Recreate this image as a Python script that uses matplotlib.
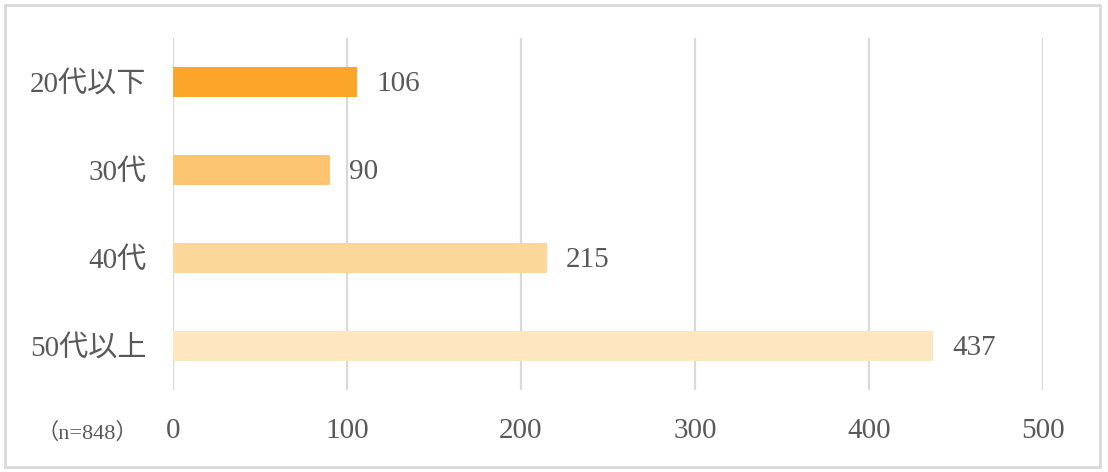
import matplotlib.pyplot as plt
from matplotlib.patches import Rectangle

## data
categories = ["20代以下", "30代", "40代", "50代以上"]
counts = [106, 90, 215, 437]
bar_colors = ["#FBA629", "#FDC572", "#FDD699", "#FEE6C0"]
xticks = [0, 100, 200, 300, 400, 500]
note = "（n=848）"

plt.rcParams['font.family'] = ['Liberation Serif', 'Noto Sans CJK JP']
text_color = "#595959"
grid_color = "#D9D9D9"

fig = plt.figure(figsize=(11.08, 4.72), dpi=100)
W, H = 1108, 472
ax = fig.add_axes([173 / W, 1 - 390 / H, (1043 - 173) / W, (390 - 38) / H])

ypos = list(range(len(categories)))
ax.barh(ypos, counts, height=0.35, color=bar_colors, zorder=3)
for y, v in zip(ypos, counts):
    ax.text(v + 11, y + 0.02, str(v), va="center", ha="left", fontsize=21, color=text_color)

ax.set_xlim(0, 500)
ax.set_ylim(3.5, -0.5)
ax.set_yticks(ypos)
ax.set_yticklabels(categories, fontsize=21, color=text_color)
ax.set_xticks(xticks)
ax.set_xticklabels([str(t) for t in xticks], fontsize=21, color=text_color)
ax.tick_params(axis="y", length=0, pad=19)
ax.tick_params(axis="x", length=0, pad=20)
ax.grid(axis="x", color=grid_color, linewidth=1.6, zorder=0)
for s in ax.spines.values():
    s.set_visible(False)

fig.text(87 / W, 1 - 433 / H, note, ha="center", va="center", fontsize=16, color=text_color)

## outer frame
fig.patches.append(Rectangle((5 / W, 5 / H), 1095 / W, 462 / H, transform=fig.transFigure,
                             fill=False, edgecolor=grid_color, linewidth=2))

fig.savefig("out.png", dpi=100)
